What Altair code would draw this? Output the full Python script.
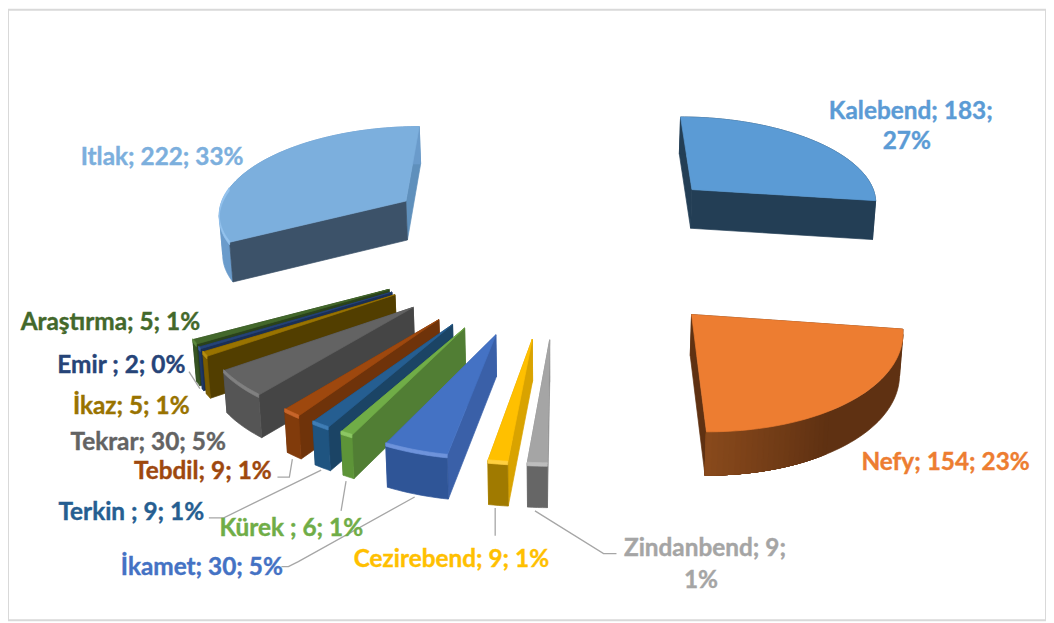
import math
import altair as alt
import pandas as pd

names = ["Kalebend", "Nefy", "Zindanbend", "Cezirebend", "İkamet", "Kürek", "Terkin ", "Tebdil", "Tekrar", "İkaz", "Emir ", "Araştırma", "Itlak"]
values = [183, 154, 9, 9, 30, 6, 9, 9, 30, 5, 2, 5, 222]
percents = [27, 23, 1, 1, 5, 1, 1, 1, 5, 1, 0, 1, 33]

top_colors = ["#5B9BD5", "#ED7D31", "#A5A5A5", "#FFC000", "#4472C4", "#70AD47", "#255E91", "#9E480E", "#636363", "#997300", "#264478", "#43682B", "#7CAFDD"]
start_wall = ["#233E55", "#5F3112", "#8A8A8A", "#D9A300", "#3A60A8", "#517E34", "#1B4465", "#6F330A", "#454545", "#523E00", "#1A2F55", "#2A421B", "#3C5269"]
end_wall = ["#233E55", "#5F3112", "#8A8A8A", "#D9A300", "#3A60A8", "#517E34", "#1B4465", "#6F330A", "#454545", "#523E00", "#1A2F55", "#2A421B", "#5F90BC"]
arc_wall = ["#233E55", "#5F3112", "#666666", "#A07A00", "#2F5597", "#5D9438", "#1F5480", "#813B0B", "#555555", "#7A5C00", "#1F3864", "#365322", "#6A9BCB"]
rim_colors = [None, None, "#BDBDBD", "#FFD040", "#6E93DB", "#8CC763", "#3F7DB5", "#C7652A", "#808080", "#B78E10", "#3A5C9A", "#5C8A3E", "#94C3EE"]

label_lines = [
    ("Kalebend; 183;", "#5B9BD5", 916, 111), ("27%", "#5B9BD5", 912, 141),
    ("Nefy; 154; 23%", "#ED7D31", 951, 464),
    ("Zindanbend; 9;", "#A5A5A5", 709, 550), ("1%", "#A5A5A5", 705, 583),
    ("Cezirebend; 9; 1%", "#FFC000", 454, 561),
    ("İkamet; 30; 5%", "#4472C4", 203, 570),
    ("Kürek ; 6; 1%", "#70AD47", 293, 530),
    ("Terkin ; 9; 1%", "#255E91", 132, 514),
    ("Tebdil; 9; 1%", "#9E480E", 204, 473),
    ("Tekrar; 30; 5%", "#636363", 149, 444),
    ("İkaz; 5; 1%", "#997300", 132, 408),
    ("Emir ; 2; 0%", "#264478", 122, 366),
    ("Araştırma; 5; 1%", "#43682B", 111, 323),
    ("Itlak; 222; 33%", "#7CAFDD", 163, 157),
]

leaders = [
    [(538, 512), (607, 555), (620, 555)],
    [(498, 509), (498, 537)],
    [(417, 498), (300, 563), (290, 568), (283, 568)],
    [(348, 482), (343, 512)],
    [(323, 471), (225, 519), (210, 519)],
    [(294, 460), (291, 478), (279, 478)],
    [(190, 372), (201, 389)],
]

# perspective model of the exploded 3-D pie
CX, HY, V, R, U0, B = 562.5, -661, 904, 194, 1.0, 0.1
EXPLODE = 0.97
DEPTH = 40


def proj(X, Y):
    s = 1 / (U0 + B * Y)
    return CX + X * R * s, HY + V * s, s


def low(p):
    x, y, s = p
    return CX + (x - CX) * 0.99, y + DEPTH * s ** 0.45, s


def mix(a, b, t):
    ca = [int(a[i:i + 2], 16) for i in (1, 3, 5)]
    cb = [int(b[i:i + 2], 16) for i in (1, 3, 5)]
    return "#" + "".join(f"{round(x + (y - x) * t):02x}" for x, y in zip(ca, cb))


total = sum(values)
slices = []
acc = 0
for i, v in enumerate(values):
    a0, a1 = acc / total * 2 * math.pi, (acc + v) / total * 2 * math.pi
    acc += v
    mid = (a0 + a1) / 2
    slices.append((math.cos(mid), i, a0, a1, mid))
slices.sort(reverse=True)

rows = []
fid = 0


def face(pts, color):
    global fid
    for k, (x, y) in enumerate(list(pts) + [pts[0]]):
        rows.append({"x": x, "y": y, "face": fid, "seq": k, "c": color})
    fid += 1


def band(part):
    return part + [low(p) for p in reversed(part)]


for _, i, a0, a1, mid in slices:
    ax, ay = EXPLODE * math.sin(mid), EXPLODE * math.cos(mid)
    n = max(4, int((a1 - a0) * 40))
    angs = [a0 + (a1 - a0) * k / n for k in range(n + 1)]
    apex = proj(ax, ay)
    arc = [proj(ax + math.sin(a), ay + math.cos(a)) for a in angs]
    # split the curved wall where it folds at the silhouette (screen-x extreme), back part first
    folds = [k for k in range(1, n) if (arc[k][0] - arc[k - 1][0]) * (arc[k + 1][0] - arc[k][0]) < 0]
    cuts = [0] + folds + [n]
    parts = [arc[cuts[j]:cuts[j + 1] + 1] for j in range(len(cuts) - 1)]
    parts.sort(key=lambda part: part[len(part) // 2][1])
    polys = [band(part) for part in parts]
    cols = [arc_wall[i]] * len(polys)
    if names[i] == "Nefy":
        # nested overlays give a seamless shading towards the lit end of the wall
        for k in range(int(n * 0.6), n, 1):
            polys.append(band(arc[k:]))
            cols.append(mix("#5F3112", "#8A4A1C", (k / n - 0.6) / 0.4))
    walls = [
        (ay + math.cos(a0) / 2, [[apex, arc[0], low(arc[0]), low(apex)]], [start_wall[i]]),
        (ay + math.cos(a1) / 2, [[apex, arc[-1], low(arc[-1]), low(apex)]], [end_wall[i]]),
        (ay + math.cos(mid) * 0.75, polys, cols),
    ]
    walls.sort(key=lambda w: -w[0])
    for _, ps, cs in walls:
        for poly, col in zip(ps, cs):
            face([(p[0], p[1]) for p in poly], col)
    face([(apex[0], apex[1])] + [(p[0], p[1]) for p in arc], top_colors[i])
    if rim_colors[i]:
        vis = [p for a, p in zip(angs, arc) if math.pi * 0.98 < a < math.pi * 1.55]
        if len(vis) > 1:
            face([(p[0], p[1] - 1) for p in vis] + [(p[0], p[1] + 2.5) for p in reversed(vis)], rim_colors[i])

df = pd.DataFrame(rows)
xs = alt.Scale(domain=[8, 1052], range=[0, 1044])
ys = alt.Scale(domain=[8, 622], range=[0, 614])
X = alt.X("x:Q", scale=xs, axis=None)
Y = alt.Y("y:Q", scale=ys, axis=None)

pie = alt.Chart(df).mark_line(strokeWidth=0.7, interpolate="linear").encode(
    x=X, y=Y, detail="face:N", order="seq:Q",
    fill=alt.Fill("c:N", scale=None), stroke=alt.Stroke("c:N", scale=None),
)

lead_rows = [{"x": x, "y": y, "g": g, "seq": k} for g, l in enumerate(leaders) for k, (x, y) in enumerate(l)]
lead = alt.Chart(pd.DataFrame(lead_rows)).mark_line(color="#A6A6A6", strokeWidth=1.3).encode(
    x=X, y=Y, detail="g:N", order="seq:Q")

text_df = pd.DataFrame([{"t": t, "c": c, "x": x, "y": y} for t, c, x, y in label_lines])
text = alt.Chart(text_df).mark_text(font="Lato", fontWeight="bold", fontSize=24.5, align="center", baseline="middle", strokeWidth=0.4).encode(
    x=X, y=Y, text="t:N", fill=alt.Fill("c:N", scale=None), stroke=alt.Stroke("c:N", scale=None))

chart = alt.layer(lead, pie, text).properties(width=1044, height=614, padding=0).configure_view(stroke="#D9D9D9", strokeWidth=2)
chart.save("out.html", embed_options={"renderer": "svg", "actions": False})
